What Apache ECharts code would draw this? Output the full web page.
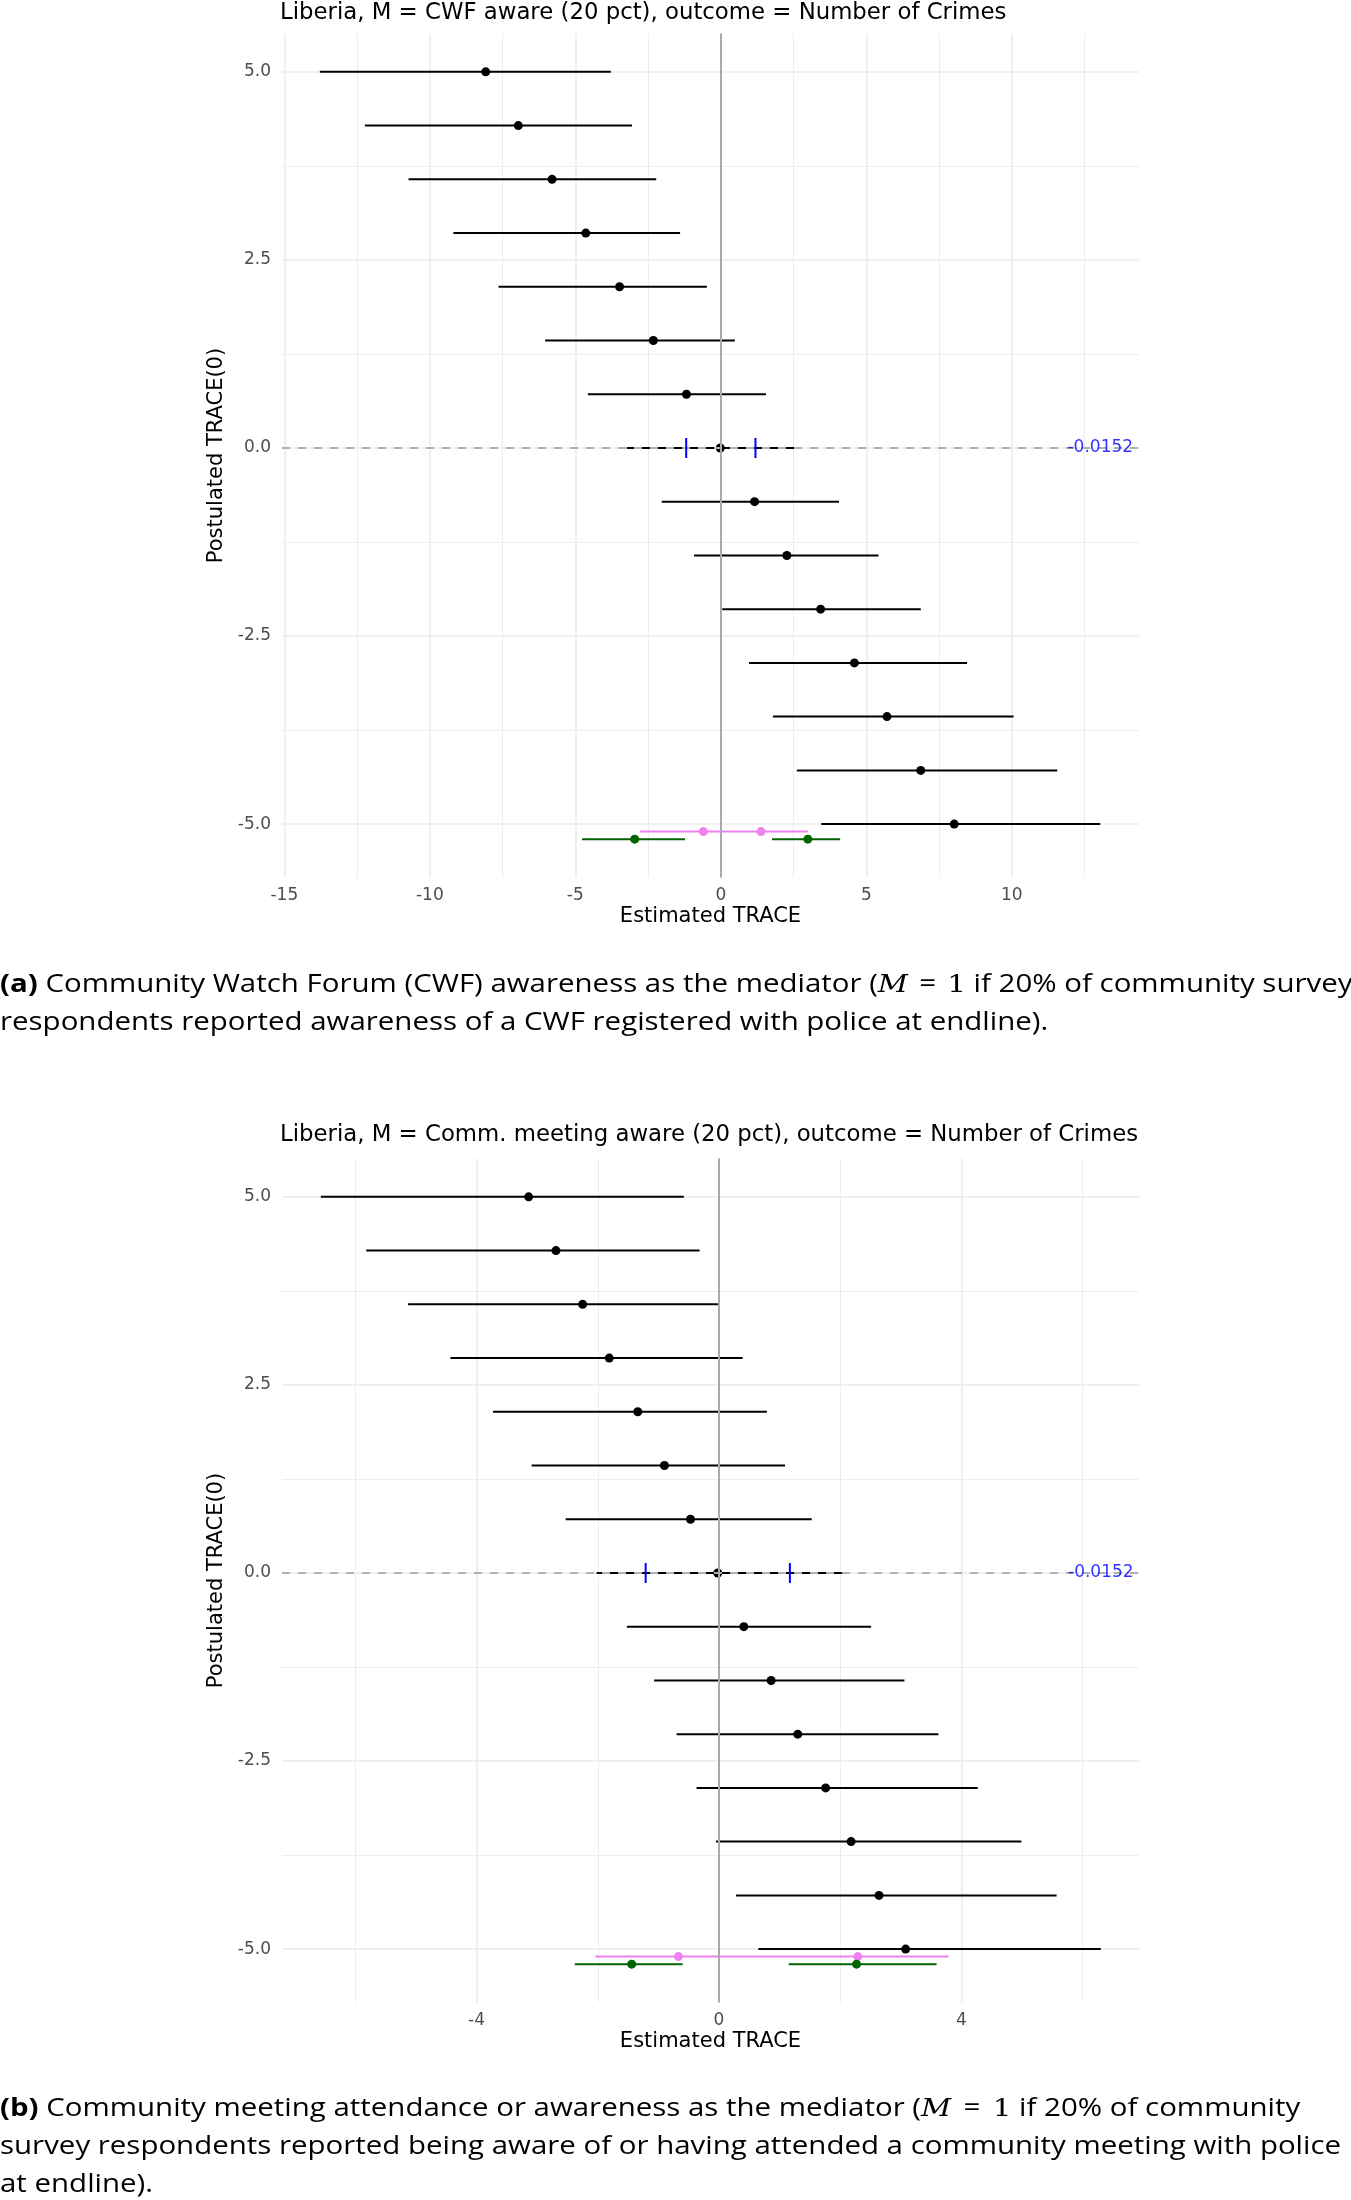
<!DOCTYPE html>
<html>
<head>
<meta charset="utf-8">
<script src="https://cdn.jsdelivr.net/npm/echarts@6/dist/echarts.min.js"></script>
<style>
html, body { margin: 0; padding: 0; background: #fff; }
#main { width: 1351px; height: 2200px; }
</style>
</head>
<body>
<div id="main"></div>
<script>
// postulated TRACE(0), one row per estimate (top to bottom)
const postulated = [5.0, 4.286, 3.571, 2.857, 2.143, 1.429, 0.714, 0.0, -0.714, -1.429, -2.143, -2.857, -3.571, -4.286, -5.0];

// panel (a): M = CWF aware
const aLow  = [-13.78, -12.23, -10.73, -9.19, -7.64, -6.04, -4.57, -3.23, -2.03, -0.92, 0.05, 0.97, 1.79, 2.61, 3.45];
const aEst  = [-8.08, -6.96, -5.80, -4.64, -3.48, -2.32, -1.18, -0.02, 1.16, 2.27, 3.43, 4.59, 5.71, 6.87, 8.02];
const aHigh = [-3.78, -3.05, -2.22, -1.40, -0.48, 0.48, 1.55, 2.67, 4.06, 5.42, 6.87, 8.46, 10.06, 11.56, 13.04];
const aPinkLo = -2.77, aPinkHi = 2.99;
const aPinkPts = [-0.60, 1.38];
const aGreenLo = [-4.77, 1.76];
const aGreenHi = [-1.23, 4.10];
const aGreenPts = [-2.96, 2.99];
const aBlue = [-1.19, 1.19];

// panel (b): M = Comm. meeting aware
const bLow  = [-6.57, -5.82, -5.13, -4.43, -3.73, -3.09, -2.53, -2.02, -1.52, -1.07, -0.70, -0.37, -0.05, 0.28, 0.65];
const bEst  = [-3.14, -2.69, -2.25, -1.81, -1.34, -0.90, -0.47, -0.02, 0.41, 0.86, 1.30, 1.76, 2.18, 2.64, 3.08];
const bHigh = [-0.58, -0.32, 0.00, 0.39, 0.79, 1.09, 1.53, 2.04, 2.51, 3.06, 3.62, 4.27, 4.99, 5.57, 6.30];
const bPinkLo = -2.04, bPinkHi = 3.79;
const bPinkPts = [-0.67, 2.29];
const bGreenLo = [-2.38, 1.15];
const bGreenHi = [-0.60, 3.59];
const bGreenPts = [-1.44, 2.27];
const bBlue = [-1.21, 1.17];

// dodge rows for the pink / green summaries
const pinkY = -5.10;
const greenY = -5.20;
const traceLabel = '-0.0152';

// ticks
const aXTicks = [-15, -10, -5, 0, 5, 10];
const aXMinor = [-12.5, -7.5, -2.5, 2.5, 7.5, 12.5];
const bXTicks = [-4, 0, 4];
const bXMinor = [-6, -2, 2, 6];
const yTicks = [5, 2.5, 0, -2.5, -5];
const yMinor = [3.75, 1.25, -1.25, -3.75];

const titles = [
  'Liberia, M = CWF aware (20 pct), outcome = Number of Crimes',
  'Liberia, M = Comm. meeting aware (20 pct), outcome = Number of Crimes'
];

const FONT = 'DejaVu Sans';
const chart = echarts.init(document.getElementById('main'));

function segItem(color) {
  return function (params, api) {
    const p1 = api.coord([api.value(0), api.value(2)]);
    const p2 = api.coord([api.value(1), api.value(2)]);
    return {
      type: 'line',
      shape: { x1: p1[0], y1: p1[1], x2: p2[0], y2: p2[1] },
      style: { stroke: color, lineWidth: 2 }
    };
  };
}

function panelSeries(idx, p) {
  const ax = { xAxisIndex: idx, yAxisIndex: idx };
  const rows = postulated.map((y, i) => [p.low[i], p.high[i], y]);
  return [
    // grid lines
    Object.assign({
      type: 'line', data: [], z: 1, silent: true,
      markLine: {
        z: 1, silent: true, symbol: ['none', 'none'], label: { show: false },
        lineStyle: { color: '#ebebeb', width: 1.6, type: 'solid' },
        data: p.xTicks.map(v => ({ xAxis: v })).concat(yTicks.map(v => ({ yAxis: v })))
      }
    }, ax),
    Object.assign({
      type: 'line', data: [], z: 1, silent: true,
      markLine: {
        z: 1, silent: true, symbol: ['none', 'none'], label: { show: false },
        lineStyle: { color: '#ededed', width: 1, type: 'solid' },
        data: p.xMinor.map(v => ({ xAxis: v })).concat(yMinor.map(v => ({ yAxis: v })))
      }
    }, ax),
    // black intervals and estimates
    Object.assign({
      type: 'custom', z: 2, renderItem: segItem('#000'),
      encode: { x: [0, 1], y: 2 }, data: rows
    }, ax),
    Object.assign({
      type: 'scatter', z: 3, symbolSize: 9, itemStyle: { color: '#000', opacity: 1 },
      data: p.est.map((v, i) => [v, postulated[i]])
    }, ax),
    // pink
    Object.assign({
      type: 'custom', z: 2, renderItem: segItem('violet'),
      encode: { x: [0, 1], y: 2 }, data: [[p.pinkLo, p.pinkHi, pinkY]]
    }, ax),
    Object.assign({
      type: 'scatter', z: 3, symbolSize: 9, itemStyle: { color: 'violet', opacity: 1 },
      data: p.pinkPts.map(v => [v, pinkY])
    }, ax),
    // green
    Object.assign({
      type: 'custom', z: 2, renderItem: segItem('#006400'),
      encode: { x: [0, 1], y: 2 },
      data: p.greenLo.map((v, i) => [v, p.greenHi[i], greenY])
    }, ax),
    Object.assign({
      type: 'scatter', z: 3, symbolSize: 9, itemStyle: { color: '#006400', opacity: 1 },
      data: p.greenPts.map(v => [v, greenY])
    }, ax),
    // reference lines
    Object.assign({
      type: 'line', data: [], z: 4, silent: true,
      markLine: {
        z: 4, silent: true, symbol: ['none', 'none'], label: { show: false },
        data: [
          { xAxis: 0, lineStyle: { color: '#aaaaaa', width: 2, type: 'solid' } },
          { yAxis: 0, lineStyle: { color: '#b0b0b0', width: 2, type: [8, 8] } }
        ]
      }
    }, ax),
    // blue ticks at y = 0
    Object.assign({
      type: 'scatter', z: 6, symbol: 'rect', symbolSize: [2, 20],
      itemStyle: { color: '#0000ff', opacity: 1 },
      data: p.blue.map(v => [v, 0])
    }, ax),
    // label
    Object.assign({
      type: 'scatter', z: 6, symbolSize: 1,
      itemStyle: { color: 'rgba(0,0,0,0)' },
      label: { show: true, position: 'inside', formatter: traceLabel, color: '#0000ff', fontSize: 17, fontFamily: FONT },
      data: [[Math.max.apply(null, p.high), 0]]
    }, ax)
  ];
}

const panels = [
  { low: aLow, est: aEst, high: aHigh, pinkLo: aPinkLo, pinkHi: aPinkHi, pinkPts: aPinkPts,
    greenLo: aGreenLo, greenHi: aGreenHi, greenPts: aGreenPts, blue: aBlue,
    xTicks: aXTicks, xMinor: aXMinor, xMin: -15.08, xMax: 14.37 },
  { low: bLow, est: bEst, high: bHigh, pinkLo: bPinkLo, pinkHi: bPinkHi, pinkPts: bPinkPts,
    greenLo: bGreenLo, greenHi: bGreenHi, greenPts: bGreenPts, blue: bBlue,
    xTicks: bXTicks, xMinor: bXMinor, xMin: -7.21, xMax: 6.93 }
];

const gridTops = [33.5, 1158.5];
const titleTops = [2, 1124];

function richCaption(eqPad) {
  return {
    b: { fontWeight: 'bold', fontFamily: 'Open Sans', fontSize: 25, lineHeight: 38 },
    m: { fontStyle: 'italic', fontFamily: 'DejaVu Serif', fontSize: 25, lineHeight: 38 },
    e: { fontFamily: 'Open Sans', fontSize: 25, lineHeight: 38, padding: [0, eqPad] },
    n: { fontFamily: 'DejaVu Serif', fontSize: 25, lineHeight: 38 }
  };
}

const option = {
  animation: false,
  backgroundColor: '#fff',
  title: titles.map((t, i) => ({
    text: t, left: 280, top: titleTops[i], padding: 0,
    textStyle: { fontSize: 22.8, fontWeight: 'normal', color: '#000', fontFamily: FONT }
  })),
  grid: gridTops.map(t => ({ left: 282, top: t, width: 857, height: 844 })),
  xAxis: panels.map((p, i) => ({
    type: 'value', gridIndex: i, min: p.xMin, max: p.xMax,
    splitLine: { show: false }, axisLine: { show: false }, axisTick: { show: false },
    axisLabel: { customValues: p.xTicks, color: '#4d4d4d', fontSize: 17, fontFamily: FONT, margin: 10 },
    name: 'Estimated TRACE', nameLocation: 'middle', nameGap: 29,
    nameTextStyle: { color: '#000', fontSize: 21, fontFamily: FONT }
  })),
  yAxis: panels.map((p, i) => ({
    type: 'value', gridIndex: i, min: -5.71, max: 5.51,
    splitLine: { show: false }, axisLine: { show: false }, axisTick: { show: false },
    axisLabel: { customValues: yTicks, formatter: v => v.toFixed(1), color: '#4d4d4d', fontSize: 17, fontFamily: FONT, margin: 11 },
    name: 'Postulated TRACE(0)', nameLocation: 'middle', nameGap: 47, nameRotate: 90,
    nameTextStyle: { color: '#000', fontSize: 21, fontFamily: FONT }
  })),
  series: panelSeries(0, panels[0]).concat(panelSeries(1, panels[1])),
  graphic: [
    {
      type: 'text', x: 0, y: 966, scaleX: 1.178,
      style: {
        text: '{b|(a)} Community Watch Forum (CWF) awareness as the mediator ({m|M} {e|=} {n|1} if 20% of community survey\nrespondents reported awareness of a CWF registered with police at endline).',
        fontFamily: 'Open Sans', fontSize: 25, lineHeight: 38, fill: '#000',
        rich: richCaption(3)
      }
    },
    {
      type: 'text', x: 0, y: 2090, scaleX: 1.178,
      style: {
        text: '{b|(b)} Community meeting attendance or awareness as the mediator ({m|M} {e|=} {n|1} if 20% of community\nsurvey respondents reported being aware of or having attended a community meeting with police\nat endline).',
        fontFamily: 'Open Sans', fontSize: 25, lineHeight: 38, fill: '#000',
        rich: richCaption(4)
      }
    }
  ]
};

chart.setOption(option);
</script>
</body>
</html>
